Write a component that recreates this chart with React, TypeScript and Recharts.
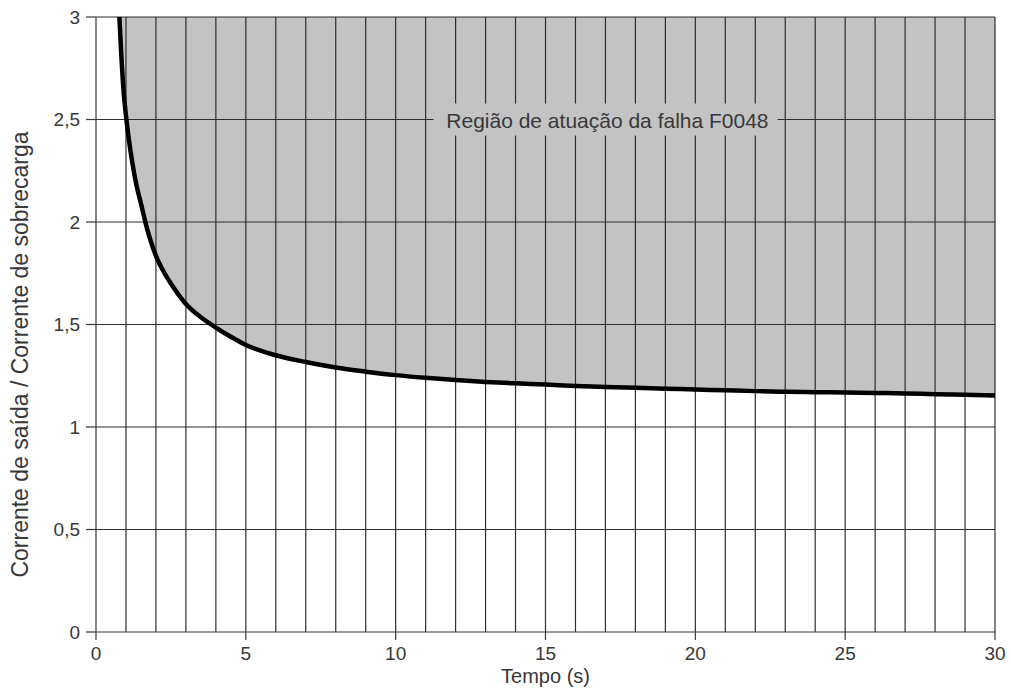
import React from 'react';
import {
  ComposedChart,
  Area,
  Line,
  XAxis,
  YAxis,
  ReferenceLine,
  ReferenceDot,
} from 'recharts';

// Tempo (s)
const times = [0.78, 0.85, 0.92, 1.0, 1.1, 1.2, 1.35, 1.5, 1.7, 2, 2.25, 2.5, 3, 3.5, 4, 4.5, 5, 6, 7, 8, 9, 10, 11, 12, 13, 14, 15, 16, 17, 18, 19, 20, 21, 22, 23, 24, 25, 26, 27, 28, 29, 30];
// Corrente de saída / Corrente de sobrecarga
const ratio = [3.0, 2.8, 2.64, 2.52, 2.4, 2.3, 2.18, 2.09, 1.97, 1.835, 1.76, 1.7, 1.6, 1.535, 1.485, 1.44, 1.4, 1.35, 1.317, 1.29, 1.27, 1.253, 1.24, 1.229, 1.22, 1.213, 1.207, 1.2, 1.195, 1.191, 1.187, 1.183, 1.179, 1.175, 1.172, 1.17, 1.168, 1.166, 1.164, 1.16, 1.157, 1.154];

const xTicks = [0, 5, 10, 15, 20, 25, 30];
const yTicks = [0, 0.5, 1, 1.5, 2, 2.5, 3];
const xGrid = Array.from({ length: 30 }, (_, i) => i + 1);
const yGrid = [0.5, 1, 1.5, 2, 2.5, 3];
const regionLabel = 'Região de atuação da falha F0048';
const regionAt = { t: 17, v: 2.5 };
const yMax = 3;

const data = times.map((t, i) => ({ t, y: ratio[i], band: [ratio[i], yMax] }));

const FONT = '"Liberation Sans", Arial, Helvetica, sans-serif';
const INK = '#383838';
const GRID = '#2e2e2e';
const FILL = '#c3c3c3';

const fmt = (v: number) => String(v).replace('.', ',');

const RegionLabel = (props: any) => {
  const vb = props.viewBox || {};
  const cx = (vb.x || 0) + (vb.width || 0) / 2;
  const cy = (vb.y || 0) + (vb.height || 0) / 2;
  return (
    <g>
      <rect x={cx - 172} y={cy - 16} width={344} height={32} fill={FILL} />
      <text
        x={cx + 2}
        y={cy + 1}
        textAnchor="middle"
        dominantBaseline="central"
        fontFamily={FONT}
        fontSize={21}
        fill={INK}
      >
        {regionLabel}
      </text>
    </g>
  );
};

const YLabel = (props: any) => {
  const vb = props.viewBox || {};
  const cy = (vb.y || 0) + (vb.height || 0) / 2 + 30;
  const x = 20;
  return (
    <text
      x={x}
      y={cy}
      transform={`rotate(-90 ${x} ${cy})`}
      textAnchor="middle"
      dominantBaseline="central"
      fontFamily={FONT}
      fontSize={23}
      fill={INK}
    >
      Corrente de saída / Corrente de sobrecarga
    </text>
  );
};

const XLabel = (props: any) => {
  const vb = props.viewBox || {};
  const cx = (vb.x || 0) + (vb.width || 0) / 2;
  return (
    <text x={cx} y={683} textAnchor="middle" fontFamily={FONT} fontSize={20} fill={INK}>
      Tempo (s)
    </text>
  );
};

export default function App() {
  return (
    <div style={{ position: 'absolute', left: 0, top: 0, background: '#fff' }}>
      <ComposedChart
        width={1011}
        height={690}
        data={data}
        margin={{ top: 17, right: 16, bottom: 18, left: 0 }}
      >
        <XAxis
          dataKey="t"
          type="number"
          domain={[0, 30]}
          ticks={xTicks}
          allowDataOverflow
          height={40}
          tickSize={8}
          tickMargin={7}
          tick={{ fill: INK, fontSize: 19, fontFamily: FONT }}
          tickLine={{ stroke: INK, strokeWidth: 1.2 }}
          axisLine={{ stroke: INK, strokeWidth: 1.2 }}
          label={<XLabel />}
        />
        <YAxis
          type="number"
          domain={[0, 3]}
          ticks={yTicks}
          allowDataOverflow
          width={96}
          tickSize={10}
          tickMargin={6}
          tickFormatter={fmt}
          tick={{ fill: INK, fontSize: 19, fontFamily: FONT }}
          tickLine={{ stroke: INK, strokeWidth: 1.2 }}
          axisLine={{ stroke: INK, strokeWidth: 1.2 }}
          label={<YLabel />}
        />
        <Area
          dataKey="band"
          type="monotone"
          fill={FILL}
          fillOpacity={1}
          stroke="none"
          isAnimationActive={false}
          activeDot={false}
          dot={false}
        />
        {xGrid.map((x) => (
          <ReferenceLine key={`vx${x}`} x={x} stroke={GRID} strokeWidth={1.2} zIndex={350} />
        ))}
        {yGrid.map((y) => (
          <ReferenceLine key={`hy${y}`} y={y} stroke={GRID} strokeWidth={1.2} zIndex={350} />
        ))}
        <Line
          dataKey="y"
          type="monotone"
          stroke="#000"
          strokeWidth={4.5}
          dot={false}
          activeDot={false}
          isAnimationActive={false}
          zIndex={450}
        />
        <ReferenceDot
          x={regionAt.t}
          y={regionAt.v}
          r={0}
          fill="none"
          stroke="none"
          zIndex={2100}
          label={<RegionLabel />}
        />
      </ComposedChart>
    </div>
  );
}
